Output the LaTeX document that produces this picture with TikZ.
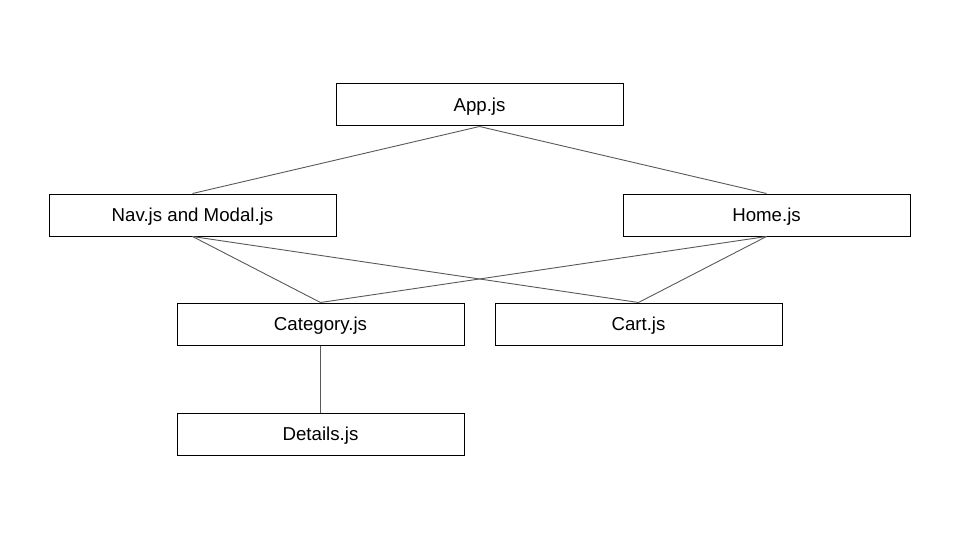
\documentclass[tikz,border=0pt]{standalone}
\usepackage{fontspec}
\setmainfont{Liberation Sans}
\begin{document}
\begin{tikzpicture}[x=1pt,y=-1pt,
  box/.style={draw=black,line width=1pt,minimum width=287pt,minimum height=42pt,inner sep=0pt,text height=13.4pt,text depth=0pt,font=\fontsize{18.67}{22}\selectfont},
  conn/.style={draw=black!65,line width=0.9pt}]
\useasboundingbox (0,0) rectangle (960,540);
\node[box] (app) at (479.5,105) {App.js};
\node[box] (nav) at (192.5,215) {Nav.js and Modal.js};
\node[box] (home) at (766.5,215) {Home.js};
\node[box] (cat) at (320.5,324) {Category.js};
\node[box] (cart) at (638.5,324) {Cart.js};
\node[box] (det) at (320.5,434) {Details.js};
\draw[conn] (app.south) -- (nav.north);
\draw[conn] (app.south) -- (home.north);
\draw[conn] (nav.south) -- (cat.north);
\draw[conn] (nav.south) -- (cart.north);
\draw[conn] (home.south) -- (cat.north);
\draw[conn] (home.south) -- (cart.north);
\draw[conn] (cat.south) -- (det.north);
\end{tikzpicture}
\end{document}
